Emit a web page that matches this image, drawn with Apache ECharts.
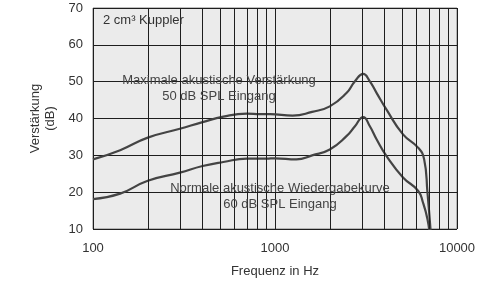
<!DOCTYPE html>
<html>
<head>
<meta charset="utf-8">
<script src="https://cdn.jsdelivr.net/npm/echarts@6/dist/echarts.min.js"></script>
<style>
html, body { margin: 0; padding: 0; background: #fff; }
#main { width: 482px; height: 283px; }
</style>
</head>
<body>
<div id="main"></div>
<script>
// Maximale akustische Verstärkung (50 dB SPL Eingang)
const maxFreq = [100, 141, 200, 300, 400, 520, 700, 830, 940, 1250, 1600, 2000, 2470, 2750, 3050, 3320, 3620, 4100, 5050, 6110, 6600, 6880, 7200];
const maxGain = [28.9, 31.4, 34.8, 37.2, 39.0, 40.5, 41.3, 41.2, 41.2, 40.8, 41.8, 43.3, 46.9, 50.1, 52.1, 50.1, 46.9, 42.4, 35.7, 32.1, 28.9, 20.0, 8.0];
// Normale akustische Wiedergabekurve (60 dB SPL Eingang)
const normFreq = [100, 141, 200, 300, 400, 520, 700, 900, 1000, 1310, 1600, 2000, 2470, 2750, 3050, 3320, 3620, 4100, 5050, 6110, 6500, 6880, 7100];
const normGain = [18.1, 19.6, 23.1, 25.3, 27.1, 28.2, 29.1, 29.1, 29.2, 28.9, 30.0, 31.6, 35.2, 37.9, 40.4, 37.9, 34.3, 29.8, 24.0, 20.4, 17.2, 12.7, 8.0];
// Zwischenlinien des logarithmischen Rasters
const minorFreq = [200, 300, 400, 500, 600, 700, 800, 900, 2000, 3000, 4000, 5000, 6000, 7000, 8000, 9000];

const font = 'Liberation Sans, Arial, sans-serif';
const gridColor = '#1e1e1e';
const curveColor = '#444';

const toPairs = (xs, ys) => xs.map((x, i) => [x, ys[i]]);

const chart = echarts.init(document.getElementById('main'));
chart.setOption({
    animation: false,
    backgroundColor: '#fff',
    textStyle: { fontFamily: font },
    grid: {
        left: 93, right: 25, top: 8, bottom: 53,
        show: true,
        backgroundColor: '#ebebeb',
        borderColor: '#808080',
        borderWidth: 1
    },
    xAxis: {
        type: 'log',
        logBase: 10,
        min: 100,
        max: 10000,
        name: 'Frequenz in Hz',
        nameLocation: 'middle',
        nameGap: 36,
        nameTextStyle: { fontSize: 13, color: '#333', fontFamily: font },
        axisLine: { show: false },
        axisTick: { show: false },
        axisLabel: {
            fontSize: 13, color: '#333', margin: 13, fontFamily: font,
            formatter: v => String(Math.round(v))
        },
        splitLine: { show: true, lineStyle: { color: gridColor, width: 1 } }
    },
    yAxis: {
        type: 'value',
        min: 10,
        max: 70,
        interval: 10,
        name: 'Verstärkung\n(dB)',
        nameLocation: 'middle',
        nameGap: 35,
        nameTextStyle: { fontSize: 13, color: '#333', lineHeight: 15, fontFamily: font },
        axisLine: { show: false },
        axisTick: { show: false },
        axisLabel: { fontSize: 13, color: '#333', margin: 10, fontFamily: font },
        splitLine: { show: true, lineStyle: { color: gridColor, width: 1 } }
    },
    series: [
        {
            name: 'raster',
            type: 'line',
            data: [],
            z: 1,
            silent: true,
            markLine: {
                silent: true,
                symbol: ['none', 'none'],
                label: { show: false },
                lineStyle: { type: 'solid', color: gridColor, width: 1 },
                data: minorFreq.map(f => ({ xAxis: f }))
            }
        },
        {
            name: 'Maximale akustische Verstärkung',
            type: 'line',
            data: toPairs(maxFreq, maxGain),
            smooth: 0.5,
            symbol: 'none',
            z: 3,
            lineStyle: { color: curveColor, width: 2.2 }
        },
        {
            name: 'Normale akustische Wiedergabekurve',
            type: 'line',
            data: toPairs(normFreq, normGain),
            smooth: 0.5,
            symbol: 'none',
            z: 3,
            lineStyle: { color: curveColor, width: 2.2 }
        }
    ],
    graphic: [
        {
            type: 'text', left: 103, top: 14, z: 10,
            style: { text: '2 cm³ Kuppler', fontSize: 13, fill: '#333', fontFamily: font }
        },
        {
            type: 'text', x: 219, y: 72, z: 10,
            style: {
                text: 'Maximale akustische Verstärkung\n50 dB SPL Eingang',
                align: 'center', fontSize: 13, lineHeight: 16, fill: '#444', fontFamily: font
            }
        },
        {
            type: 'text', x: 280, y: 180, z: 10,
            style: {
                text: 'Normale akustische Wiedergabekurve\n60 dB SPL Eingang',
                align: 'center', fontSize: 13, lineHeight: 16, fill: '#444', fontFamily: font
            }
        }
    ]
});
</script>
</body>
</html>
